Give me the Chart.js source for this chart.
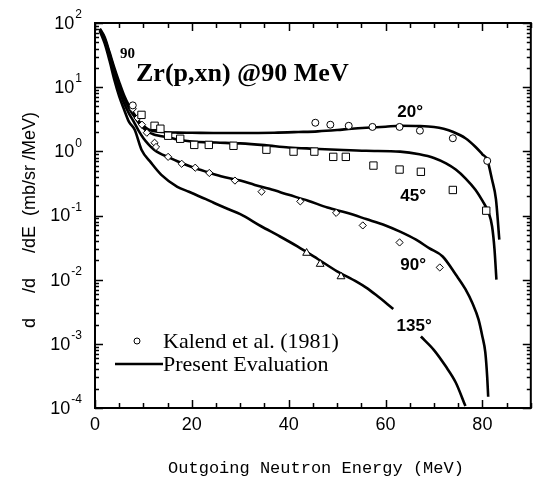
<!DOCTYPE html>
<html>
<head>
<meta charset="utf-8">
<script src="https://cdn.jsdelivr.net/npm/chart.js@4.4.1/dist/chart.umd.min.js"></script>
<style>
  html, body { margin: 0; padding: 0; background: #fff; }
</style>
</head>
<body>
<canvas id="zrChart" width="537" height="481"></canvas>
<script>
// Present evaluation curves: outgoing energy (MeV) and d2s/dOdE (mb/sr/MeV)
const e20 = [1, 2, 3, 4, 5, 6, 7, 8, 9, 10, 11, 12, 14, 17, 20, 25, 30, 37, 42, 46, 50, 53, 56, 60, 63, 67, 70, 72, 74, 76.5, 78.6, 80, 81, 82, 82.8, 83.5];
const s20 = [82, 60, 35, 20, 12, 7.5, 5.2, 3.9, 3.0, 2.5, 2.2, 2.08, 2.0, 1.96, 1.95, 1.93, 1.93, 1.95, 2.0, 2.05, 2.15, 2.25, 2.33, 2.42, 2.5, 2.48, 2.4, 2.25, 2.0, 1.6, 1.17, 0.9, 0.74, 0.36, 0.18, 0.042];

const e45 = [1, 2, 3, 4, 5, 6, 7, 8, 9, 10, 11, 12, 13, 15, 17.5, 20, 25, 30, 35, 40, 45, 50, 56, 63, 67, 70, 72.5, 74.5, 76.5, 78.6, 80, 81.3, 82, 82.5, 82.9];
const s45 = [80, 57, 33, 18.5, 11, 6.8, 4.7, 3.6, 2.8, 2.3, 2.0, 1.85, 1.76, 1.66, 1.5, 1.42, 1.37, 1.33, 1.25, 1.15, 1.1, 1.06, 1.02, 0.99, 0.9, 0.79, 0.65, 0.52, 0.38, 0.25, 0.17, 0.11, 0.068, 0.03, 0.01];

const e90 = [1, 2, 3, 4, 5, 6, 7, 8, 9, 10, 11, 12.2, 13.5, 15, 17, 20, 23, 26, 30, 33, 36, 40, 44, 48, 52, 56, 60, 63, 66.3, 69, 71.8, 74.5, 76.5, 78, 79.2, 80, 80.6, 81, 81.2];
const s90 = [77, 53, 30, 16, 9, 5.6, 3.9, 2.9, 2.1, 1.6, 1.3, 1.06, 0.92, 0.82, 0.7, 0.57, 0.48, 0.41, 0.35, 0.3, 0.26, 0.21, 0.17, 0.133, 0.11, 0.088, 0.07, 0.056, 0.042, 0.031, 0.023, 0.012, 0.0071, 0.0042, 0.0024, 0.0013, 0.00074, 0.0003, 0.00015];

const e135 = [1, 2, 3, 4, 5, 6, 7, 8.2, 9.6, 11.6, 13.7, 17, 19.4, 22.9, 24.5, 27.6, 30, 34.3, 38, 41.8, 46, 50, 54, 56, 58, 61.6, 64, 67.3, 70, 72.4, 74.5, 76.5];
const s135 = [75, 48, 26, 13, 7.2, 4.5, 2.9, 2.17, 1.06, 0.66, 0.43, 0.28, 0.235, 0.18, 0.158, 0.125, 0.105, 0.068, 0.048, 0.033, 0.021, 0.0135, 0.0093, 0.0075, 0.0058, 0.0035, null, 0.0013, 0.0008, 0.00045, 0.00025, 0.000107];

// Kalend et al. (1981) measurements
const circX = [7.8, 45.5, 48.6, 52.4, 57.3, 62.9, 67.1, 73.9, 81.0];
const circY = [5.2, 2.79, 2.6, 2.5, 2.4, 2.4, 2.1, 1.6, 0.71];
const sqX = [9.6, 12.3, 13.5, 15.1, 17.6, 20.5, 23.5, 28.6, 35.4, 41.0, 45.3, 49.2, 51.8, 57.5, 62.9, 67.3, 73.9, 80.8];
const sqY = [3.7, 2.5, 2.25, 1.75, 1.57, 1.26, 1.26, 1.22, 1.06, 0.99, 0.99, 0.82, 0.82, 0.6, 0.52, 0.48, 0.25, 0.119];
const dmX = [7.8, 8.8, 9.7, 10.7, 12.3, 12.6, 15.1, 17.9, 20.7, 23.6, 28.9, 34.4, 42.4, 49.8, 55.3, 62.9, 71.2];
const dmY = [4.6, 3.3, 2.6, 1.95, 1.36, 1.17, 0.82, 0.64, 0.556, 0.46, 0.35, 0.235, 0.166, 0.11, 0.07, 0.038, 0.0155];
const triX = [43.7, 46.5, 50.8];
const triY = [0.026, 0.0175, 0.0112];

// axis ticks
const xTicks = [0, 20, 40, 60, 80];
const yExps = [-4, -3, -2, -1, 0, 1, 2];

const pts = (xs, ys) => xs.map((x, i) => ({ x: x, y: ys[i] }));

function marker(data, style, r) {
    return {
        type: 'scatter',
        data: data,
        showLine: false,
        pointStyle: style,
        pointRadius: r,
        pointBackgroundColor: '#fff',
        pointBorderColor: '#000',
        pointBorderWidth: 1
    };
}

function curve(data) {
    return {
        type: 'line',
        data: data,
        borderColor: '#000',
        borderWidth: 2.6,
        pointRadius: 0,
        fill: false,
        spanGaps: false,
        cubicInterpolationMode: 'monotone'
    };
}

// angle labels, placed in data coordinates
const angleLabels = [
    { text: '20\u00b0', x: 65.1, y: 4.1 },
    { text: '45\u00b0', x: 65.7, y: 0.2 },
    { text: '90\u00b0', x: 65.7, y: 0.017 },
    { text: '135\u00b0', x: 65.9, y: 0.0019 }
];

const decorations = {
    id: 'decorations',
    afterDraw(chart) {
        const ctx = chart.ctx;
        const xs = chart.scales.x, ys = chart.scales.y;
        const { left, right, top, bottom } = chart.chartArea;
        ctx.save();
        ctx.strokeStyle = '#000';
        ctx.fillStyle = '#000';

        // frame
        ctx.lineWidth = 2;
        ctx.strokeRect(left, top, right - left, bottom - top);

        // x ticks (inside, top and bottom)
        ctx.lineWidth = 1.5;
        for (let v = 0; v <= 90; v += 5) {
            const px = Math.round(xs.getPixelForValue(v)) + 0.5;
            const len = v % 20 === 0 ? 8 : 5;
            ctx.beginPath();
            ctx.moveTo(px, bottom); ctx.lineTo(px, bottom - len);
            ctx.moveTo(px, top); ctx.lineTo(px, top + len);
            ctx.stroke();
        }
        // y ticks (inside, left and right)
        for (let k = -4; k <= 2; k++) {
            for (let m = 1; m <= 9; m++) {
                const v = m * Math.pow(10, k);
                if (v > 100) break;
                const py = Math.round(ys.getPixelForValue(v)) + 0.5;
                const len = m === 1 ? 8 : 4;
                ctx.beginPath();
                ctx.moveTo(left, py); ctx.lineTo(left + len, py);
                ctx.moveTo(right, py); ctx.lineTo(right - len, py);
                ctx.stroke();
            }
        }

        // x tick labels
        ctx.font = '18px "Liberation Sans", Arial, sans-serif';
        ctx.textAlign = 'center';
        ctx.textBaseline = 'middle';
        xTicks.forEach(v => ctx.fillText(String(v), xs.getPixelForValue(v), bottom + 17));

        // y tick labels 10^k
        yExps.forEach(k => {
            const py = ys.getPixelForValue(Math.pow(10, k));
            const exp = String(k);
            ctx.font = '12px "Liberation Sans", Arial, sans-serif';
            ctx.textAlign = 'right';
            ctx.textBaseline = 'middle';
            const ew = ctx.measureText(exp).width;
            ctx.fillText(exp, left - 13, py - 8);
            ctx.font = '18px "Liberation Sans", Arial, sans-serif';
            ctx.fillText('10', left - 14 - ew, py + 1);
        });

        // axis titles
        ctx.font = '17px "Liberation Mono", monospace';
        ctx.textAlign = 'center';
        ctx.fillText('Outgoing Neutron Energy (MeV)', 316, 468);
        ctx.save();
        ctx.translate(30, 220);
        ctx.rotate(-Math.PI / 2);
        ctx.font = '18px "Liberation Sans", Arial, sans-serif';
        ctx.fillText('d     /d     /dE  (mb/sr /MeV)', 0, 0);
        ctx.restore();

        // reaction title
        ctx.textAlign = 'left';
        ctx.textBaseline = 'alphabetic';
        ctx.font = 'bold 15px "Liberation Serif", "Times New Roman", serif';
        ctx.fillText('90', 120, 58);
        ctx.font = 'bold 26px "Liberation Serif", "Times New Roman", serif';
        ctx.fillText('Zr(p,xn) @90 MeV', 136, 81);

        // angle labels
        ctx.font = 'bold 17px "Liberation Sans", Arial, sans-serif';
        ctx.textAlign = 'center';
        ctx.textBaseline = 'middle';
        angleLabels.forEach(l => ctx.fillText(l.text, xs.getPixelForValue(l.x), ys.getPixelForValue(l.y)));

        // legend
        ctx.lineWidth = 1;
        ctx.beginPath();
        ctx.arc(137, 341, 3, 0, Math.PI * 2);
        ctx.stroke();
        ctx.lineWidth = 2.6;
        ctx.beginPath();
        ctx.moveTo(115, 364); ctx.lineTo(163, 364);
        ctx.stroke();
        ctx.font = '22px "Liberation Serif", "Times New Roman", serif';
        ctx.textAlign = 'left';
        ctx.fillText('Kalend et al. (1981)', 163, 342);
        ctx.fillText('Present Evaluation', 163, 365);
        ctx.restore();
    }
};

const ctx = document.getElementById('zrChart').getContext('2d');
const zrChart = new Chart(ctx, {
    data: {
        datasets: [
            marker(pts(circX, circY), 'circle', 3.5),
            marker(pts(sqX, sqY), 'rect', 5.2),
            marker(pts(dmX, dmY), 'rectRot', 3.6),
            marker(pts(triX, triY), 'triangle', 4.5),
            curve(pts(e20, s20)),
            curve(pts(e45, s45)),
            curve(pts(e90, s90)),
            curve(pts(e135, s135))
        ]
    },
    options: {
        responsive: false,
        animation: false,
        devicePixelRatio: 1,
        layout: { padding: { left: 95, right: 1, top: 23, bottom: 73 } },
        scales: {
            x: { type: 'linear', min: 0, max: 90, display: false },
            y: { type: 'logarithmic', min: 1e-4, max: 100, display: false }
        },
        plugins: {
            legend: { display: false },
            tooltip: { enabled: false },
            title: { display: false }
        }
    },
    plugins: [decorations]
});
</script>
</body>
</html>
